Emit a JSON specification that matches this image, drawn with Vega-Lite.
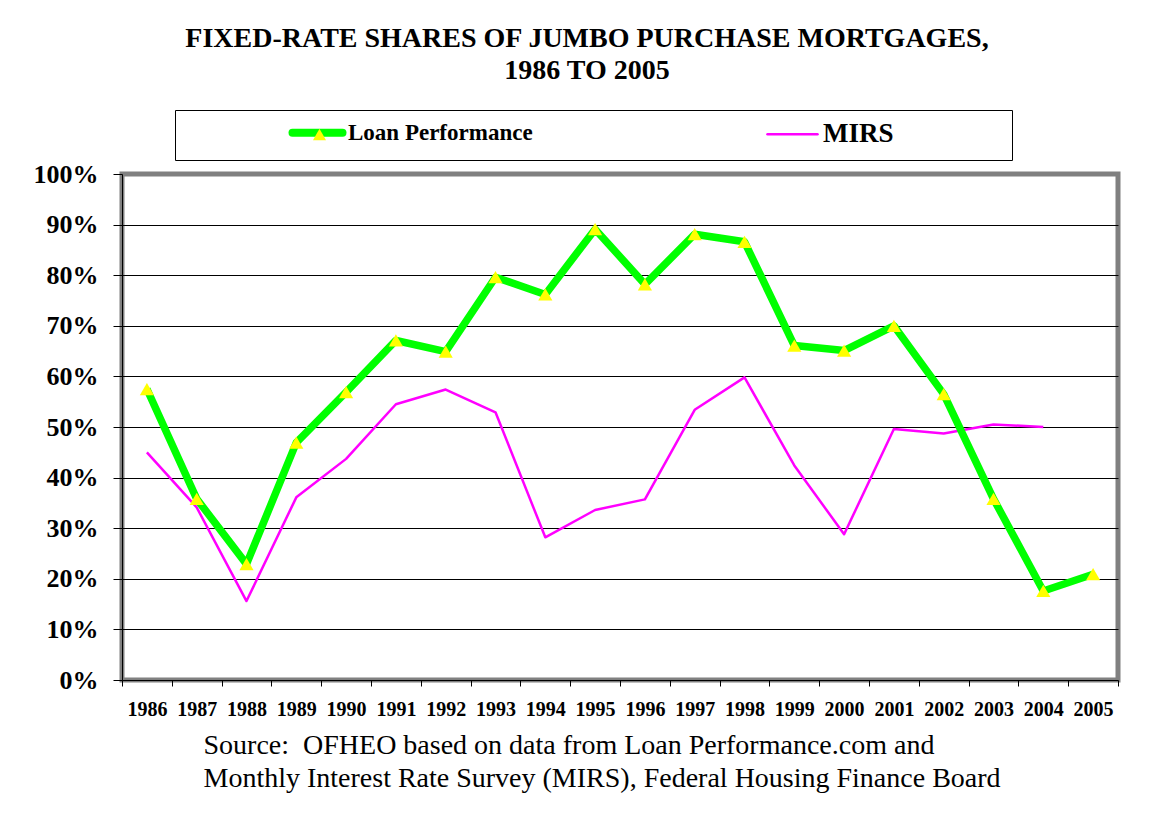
{
  "$schema": "https://vega.github.io/schema/vega-lite/v6.json",
  "width": 996,
  "height": 506,
  "autosize": {"type": "none"},
  "padding": {"left": 122, "top": 174, "right": 44, "bottom": 140},
  "background": "white",
  "config": {
    "font": "Liberation Serif",
    "view": {"stroke": "#808080", "strokeWidth": 5}
  },
  "title": {
    "text": ["FIXED-RATE SHARES OF JUMBO PURCHASE MORTGAGES,", "1986 TO 2005"],
    "font": "Liberation Serif",
    "fontSize": 28,
    "fontWeight": "bold",
    "color": "black",
    "anchor": "middle",
    "frame": "group",
    "dx": -33,
    "lineHeight": 32,
    "baseline": "alphabetic",
    "offset": 3
  },
  "data": {
    "values": [
      {"year": 1986, "series": "MIRS", "value": 0.450},
      {"year": 1987, "series": "MIRS", "value": 0.341},
      {"year": 1988, "series": "MIRS", "value": 0.156},
      {"year": 1989, "series": "MIRS", "value": 0.361},
      {"year": 1990, "series": "MIRS", "value": 0.437},
      {"year": 1991, "series": "MIRS", "value": 0.545},
      {"year": 1992, "series": "MIRS", "value": 0.574},
      {"year": 1993, "series": "MIRS", "value": 0.529},
      {"year": 1994, "series": "MIRS", "value": 0.282},
      {"year": 1995, "series": "MIRS", "value": 0.336},
      {"year": 1996, "series": "MIRS", "value": 0.357},
      {"year": 1997, "series": "MIRS", "value": 0.534},
      {"year": 1998, "series": "MIRS", "value": 0.598},
      {"year": 1999, "series": "MIRS", "value": 0.424},
      {"year": 2000, "series": "MIRS", "value": 0.288},
      {"year": 2001, "series": "MIRS", "value": 0.496},
      {"year": 2002, "series": "MIRS", "value": 0.487},
      {"year": 2003, "series": "MIRS", "value": 0.505},
      {"year": 2004, "series": "MIRS", "value": 0.500},
      {"year": 1986, "series": "Loan Performance", "value": 0.575},
      {"year": 1987, "series": "Loan Performance", "value": 0.358},
      {"year": 1988, "series": "Loan Performance", "value": 0.229},
      {"year": 1989, "series": "Loan Performance", "value": 0.469},
      {"year": 1990, "series": "Loan Performance", "value": 0.569},
      {"year": 1991, "series": "Loan Performance", "value": 0.671},
      {"year": 1992, "series": "Loan Performance", "value": 0.649},
      {"year": 1993, "series": "Loan Performance", "value": 0.796},
      {"year": 1994, "series": "Loan Performance", "value": 0.762},
      {"year": 1995, "series": "Loan Performance", "value": 0.891},
      {"year": 1996, "series": "Loan Performance", "value": 0.782},
      {"year": 1997, "series": "Loan Performance", "value": 0.881},
      {"year": 1998, "series": "Loan Performance", "value": 0.866},
      {"year": 1999, "series": "Loan Performance", "value": 0.661},
      {"year": 2000, "series": "Loan Performance", "value": 0.651},
      {"year": 2001, "series": "Loan Performance", "value": 0.700},
      {"year": 2002, "series": "Loan Performance", "value": 0.565},
      {"year": 2003, "series": "Loan Performance", "value": 0.358},
      {"year": 2004, "series": "Loan Performance", "value": 0.176},
      {"year": 2005, "series": "Loan Performance", "value": 0.209}
    ]
  },
  "encoding": {
    "x": {
      "field": "year",
      "type": "ordinal",
      "scale": {"type": "band", "paddingInner": 0, "paddingOuter": 0},
      "axis": {
        "tickBand": "extent",
        "labelAngle": 0,
        "domain": false,
        "grid": false,
        "ticks": true,
        "tickColor": "black",
        "tickSize": 6,
        "labelFont": "Liberation Serif",
        "labelFontWeight": "bold",
        "labelFontSize": 20,
        "labelColor": "black",
        "labelPadding": 13,
        "title": ["Source:\u00a0 OFHEO based on data from Loan Performance.com and", "Monthly Interest Rate Survey (MIRS), Federal Housing Finance Board"],
        "titleFont": "Liberation Serif",
        "titleFontWeight": "normal",
        "titleFontSize": 28,
        "titleColor": "black",
        "titleAnchor": "start",
        "titleAlign": "left",
        "titleBaseline": "alphabetic",
        "titleLineHeight": 33,
        "titleX": 81,
        "titleY": 73
      }
    },
    "y": {
      "field": "value",
      "type": "quantitative",
      "scale": {"domain": [0, 1], "nice": false},
      "axis": {
        "values": [0, 0.1, 0.2, 0.3, 0.4, 0.5, 0.6, 0.7, 0.8, 0.9, 1.0],
        "format": ".0%",
        "title": null,
        "domain": true,
        "domainColor": "black",
        "domainWidth": 1,
        "ticks": true,
        "tickColor": "black",
        "tickSize": 9,
        "labelPadding": 15,
        "labelFont": "Liberation Serif",
        "labelFontWeight": "bold",
        "labelFontSize": 26,
        "labelColor": "black",
        "grid": true,
        "gridColor": {"condition": {"test": "datum.value >= 1", "value": "#808080"}, "value": "black"},
        "gridWidth": 1,
        "gridOpacity": 1
      }
    }
  },
  "layer": [
    {
      "mark": {"type": "line", "strokeJoin": "round"},
      "encoding": {
        "color": {
          "field": "series",
          "type": "nominal",
          "sort": null,
          "scale": {"domain": ["Loan Performance", "MIRS"], "range": ["#00FF00", "#FF00FF"]},
          "legend": {
            "orient": "none",
            "legendX": 53,
            "legendY": -64,
            "direction": "horizontal",
            "columns": 2,
            "title": "\u00a0",
            "titleOrient": "right",
            "titlePadding": 107,
            "titleFontSize": 10,
            "strokeColor": "black",
            "fillColor": "white",
            "padding": 11,
            "symbolType": "stroke",
            "symbolSize": 2500,
            "symbolOffset": 120,
            "labelOffset": 19,
            "columnPadding": 128,
            "labelFont": "Liberation Serif",
            "labelFontWeight": "bold",
            "labelFontSize": 23,
            "labelColor": "black",
            "labelLimit": 400,
            "encode": {
              "labels": {"update": {"fontSize": {"signal": "datum.value === 'MIRS' ? 27 : 23"}}},
              "symbols": {"update": {"strokeWidth": {"signal": "datum.value === 'MIRS' ? 2.5 : 8"}, "strokeCap": {"value": "round"}}}
            }
          }
        },
        "strokeWidth": {
          "condition": {"test": "datum.series === 'Loan Performance'", "value": 7.5},
          "value": 2.5
        }
      }
    },
    {
      "transform": [{"filter": "datum.series === 'Loan Performance'"}],
      "mark": {"type": "point", "shape": "triangle-up", "filled": true, "size": 200, "opacity": 1, "strokeWidth": 0},
      "encoding": {
        "fill": {
          "field": "series",
          "type": "nominal",
          "scale": {"domain": ["Loan Performance"], "range": ["#FFFF00"]},
          "legend": {
            "orient": "none",
            "legendX": 186,
            "legendY": -51,
            "title": null,
            "padding": 0,
            "symbolType": "triangle-up",
            "symbolSize": 170,
            "symbolOffset": 0,
            "symbolStrokeWidth": 0,
            "labelExpr": "''",
            "labelFontSize": 23
          }
        }
      }
    }
  ]
}
